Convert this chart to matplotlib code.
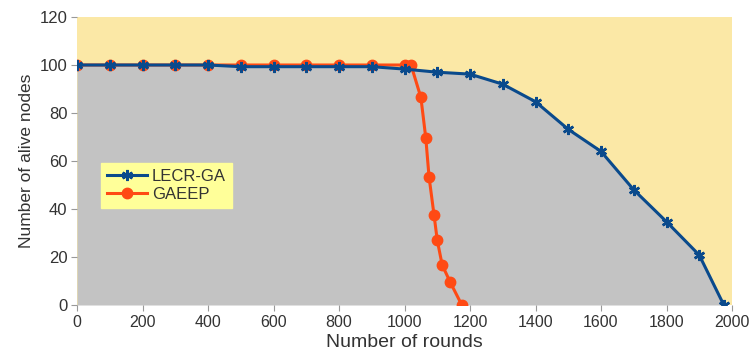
import matplotlib.pyplot as plt
import numpy as np

# LECR-GA series
lecr_rounds = [0, 100, 200, 300, 400, 500, 600, 700, 800, 900, 1000, 1100, 1200,
               1300, 1400, 1500, 1600, 1700, 1800, 1900, 1975]
lecr_alive = [100, 100, 100, 100, 100, 99.3, 99.3, 99.3, 99.3, 99.3, 98.3, 97, 96.2,
              92, 84.7, 73.2, 64, 48, 34.7, 20.8, 0]

# GAEEP series
gaeep_rounds = [0, 100, 200, 300, 400, 500, 600, 700, 800, 900, 1000, 1020,
                1050, 1065, 1075, 1090, 1100, 1115, 1140, 1175]
gaeep_alive = [100, 100, 100, 100, 100, 100, 100, 100, 100, 100, 100, 100,
               86.5, 69.6, 53.3, 37.7, 27, 16.7, 9.4, 0]

plt.rcParams['font.family'] = ['Liberation Sans', 'DejaVu Sans']

fig = plt.figure(figsize=(7.49, 3.61), dpi=100)
ax = fig.add_axes([77 / 749, 56 / 361, 655 / 749, 288 / 361])

ax.set_facecolor('#fbe8a6')
ax.fill_between(lecr_rounds, lecr_alive, 0, color='#c3c3c3', zorder=1, linewidth=0)

ax.plot(lecr_rounds, lecr_alive, color='#0a4a8c', linewidth=2.2,
        marker=(6, 2, 0), markersize=8, markeredgewidth=1.8, label='LECR-GA', zorder=4)
ax.plot(gaeep_rounds, gaeep_alive, color='#ff4a14', linewidth=2.2,
        marker='o', markersize=7.5, label='GAEEP', zorder=3)

ax.set_xlim(0, 2000)
ax.set_ylim(0, 120)
ax.set_xticks(np.arange(0, 2001, 200))
ax.set_yticks(np.arange(0, 121, 20))
for s in ax.spines.values():
    s.set_visible(False)
ax.tick_params(colors='#999999', length=4, labelcolor='#333333')
ax.tick_params(axis='x', labelsize=11.5, pad=3)
ax.tick_params(axis='y', labelsize=12, pad=3)

ax.set_xlabel('Number of rounds', fontsize=14, color='#333333', labelpad=3)
ax.set_ylabel('Number of alive nodes', fontsize=12.5, color='#333333', labelpad=4)

leg = ax.legend(loc='upper left', bbox_to_anchor=(24 / 655, 142 / 288), frameon=True,
                fancybox=False, fontsize=12, handlelength=2.4, borderpad=0.35,
                labelspacing=0.2, handletextpad=0.3, borderaxespad=0)
leg.get_frame().set_facecolor('#ffff99')
leg.get_frame().set_edgecolor('#ffff99')
leg.get_frame().set_alpha(1)
for t in leg.get_texts():
    t.set_color('#333333')

fig.savefig('out.png', dpi=100)
